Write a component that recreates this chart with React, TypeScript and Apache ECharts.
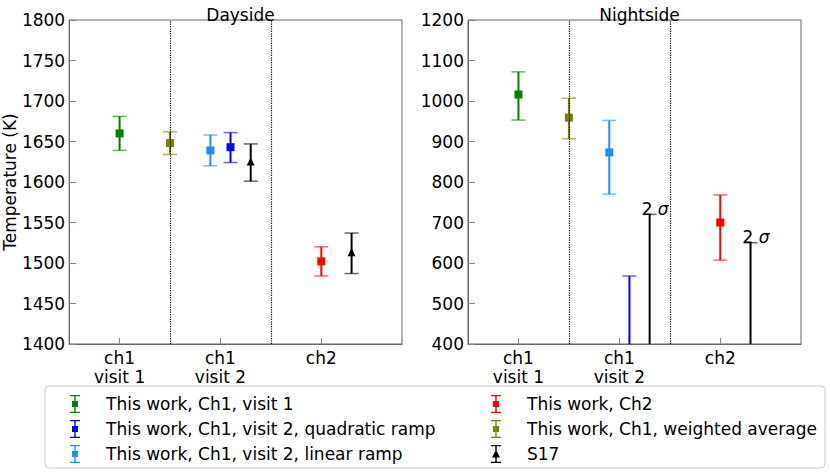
import { useEffect, useRef } from 'react';
import * as echarts from 'echarts';

// x positions: 0 = ch1 visit 1, 1 = ch1 visit 2, 2 = ch2 (offsets place the points side by side)
const xLabels = ['ch1\nvisit 1', 'ch1\nvisit 2', 'ch2'];
const xTicks = [0, 1, 2];
const separators = [0.5, 1.5];
const limitLabel = '2 {s|σ}';

// [x, value, lower, upper]
const dayVisit1 = [[0, 1660, 1639, 1681]];
const dayQuadratic = [[1.1, 1643, 1624, 1661]];
const dayLinear = [[0.9, 1639, 1620, 1658]];
const dayCh2 = [[2, 1502, 1484, 1520]];
const dayWeighted = [[0.5, 1648, 1634, 1662]];
const dayS17 = [[1.3, 1624, 1601, 1647], [2.3, 1512, 1487, 1537]];

const nightVisit1 = [[0, 1016, 953, 1072]];
const nightLinear = [[0.9, 873, 770, 952]];
const nightCh2 = [[2, 700, 607, 768]];
const nightWeighted = [[0.5, 959, 907, 1007]];
// [x, upper limit]
const nightQuadraticLimit = [[1.1, 568]];
const nightS17Limit = [[1.3, 720], [2.3, 650]];

const names = {
  visit1: 'This work, Ch1, visit 1',
  quadratic: 'This work, Ch1, visit 2, quadratic ramp',
  linear: 'This work, Ch1, visit 2, linear ramp',
  ch2: 'This work, Ch2',
  weighted: 'This work, Ch1, weighted average',
  s17: 'S17',
};

const colors = {
  visit1: '#008000',
  quadratic: '#0000ff',
  linear: '#1e90ff',
  ch2: '#ff0000',
  weighted: '#808000',
  s17: '#000000',
};

const barIcon = 'path://M0,0H10V1.2H0Z M4.3,1.2H5.7V16.8H4.3Z M2,6H8V12H2Z M0,16.8H10V18H0Z';
const triIcon = 'path://M0,0H10V1.2H0Z M4.3,1.2H5.7V16.8H4.3Z M5,5L9,12.5H1Z M0,16.8H10V18H0Z';

const FONT = 'DejaVu Sans';
const CAP = 7;

function errorBar(name: string, color: string, data: number[][], grid: number, marker: 'rect' | 'tri') {
  return {
    type: 'custom',
    name,
    xAxisIndex: grid,
    yAxisIndex: grid,
    itemStyle: { color },
    data,
    z: 3,
    renderItem: (_params: any, api: any) => {
      const x = api.value(0);
      const p = api.coord([x, api.value(1)]);
      const lo = api.coord([x, api.value(2)]);
      const hi = api.coord([x, api.value(3)]);
      const c = api.visual('color');
      const mk =
        marker === 'rect'
          ? { type: 'rect', shape: { x: p[0] - 4, y: p[1] - 4, width: 8, height: 8 }, style: { fill: c } }
          : {
              type: 'polygon',
              shape: { points: [[p[0], p[1] - 5], [p[0] + 4, p[1] + 3], [p[0] - 4, p[1] + 3]] },
              style: { fill: c },
            };
      return {
        type: 'group',
        children: [
          { type: 'line', shape: { x1: p[0], y1: hi[1], x2: p[0], y2: lo[1] }, style: { stroke: c, lineWidth: 2 } },
          { type: 'line', shape: { x1: p[0] - CAP, y1: hi[1], x2: p[0] + CAP, y2: hi[1] }, style: { stroke: c, lineWidth: 1.5, opacity: 0.6 } },
          { type: 'line', shape: { x1: p[0] - CAP, y1: lo[1], x2: p[0] + CAP, y2: lo[1] }, style: { stroke: c, lineWidth: 1.5, opacity: 0.6 } },
          mk,
        ],
      };
    },
  };
}

function upperLimit(name: string, color: string, data: number[][], grid: number, label: string | null) {
  return {
    type: 'custom',
    name,
    xAxisIndex: grid,
    yAxisIndex: grid,
    itemStyle: { color },
    data,
    z: 3,
    renderItem: (params: any, api: any) => {
      const top = api.coord([api.value(0), api.value(1)]);
      const bottom = params.coordSys.y + params.coordSys.height;
      const c = api.visual('color');
      const children: any[] = [
        { type: 'line', shape: { x1: top[0], y1: top[1], x2: top[0], y2: bottom }, style: { stroke: c, lineWidth: 2 } },
        { type: 'line', shape: { x1: top[0] - CAP, y1: top[1], x2: top[0] + CAP, y2: top[1] }, style: { stroke: c, lineWidth: 1.5, opacity: 0.6 } },
      ];
      if (label) {
        children.push({
          type: 'text',
          style: {
            text: label,
            x: top[0] - 8,
            y: top[1] + 3,
            verticalAlign: 'bottom',
            align: 'left',
            fill: '#000',
            font: `17px "${FONT}"`,
            rich: { s: { fontStyle: 'italic', fontSize: 17, fontFamily: FONT } },
          },
        });
      }
      return { type: 'group', children };
    },
  };
}

function separatorSeries(grid: number) {
  return {
    type: 'line',
    xAxisIndex: grid,
    yAxisIndex: grid,
    data: [],
    z: 5,
    silent: true,
    markLine: {
      symbol: 'none',
      silent: true,
      label: { show: false },
      lineStyle: { type: 'dotted', color: '#000', width: 1.2 },
      data: separators.map((v) => ({ xAxis: v })),
    },
  };
}

function xAxis(grid: number) {
  return {
    type: 'value',
    gridIndex: grid,
    min: -0.5,
    max: 2.8,
    axisLine: { show: true, onZero: false, lineStyle: { color: '#666' } },
    axisTick: { show: true, inside: true, length: 6, customValues: xTicks, lineStyle: { color: '#888' } },
    axisLabel: {
      customValues: xTicks,
      formatter: (v: number) => xLabels[Math.round(v)] ?? '',
      color: '#000',
      fontSize: 17,
      fontFamily: FONT,
      lineHeight: 19,
      margin: 4,
    },
    splitLine: { show: false },
  };
}

function yAxis(grid: number, min: number, max: number, interval: number, name: string) {
  return {
    type: 'value',
    gridIndex: grid,
    min,
    max,
    interval,
    name,
    nameLocation: 'middle',
    nameGap: 49,
    nameTextStyle: { color: '#000', fontSize: 17, fontFamily: FONT },
    axisLine: { show: true, onZero: false, lineStyle: { color: '#666' } },
    axisTick: { show: true, inside: true, length: 7, lineStyle: { color: '#888' } },
    axisLabel: { color: '#000', fontSize: 17, fontFamily: FONT, margin: 4, formatter: (v: number) => String(v) },
    splitLine: { show: false },
  };
}

const legendText = { color: '#000', fontSize: 17, fontFamily: FONT, padding: [0, 0, 0, 21], lineHeight: 18 };

export default function App() {
  const ref = useRef<HTMLDivElement>(null);

  useEffect(() => {
    if (!ref.current) return;
    const chart = echarts.init(ref.current, undefined, { renderer: 'svg' });

    chart.setOption({
      animation: false,
      backgroundColor: '#fff',
      textStyle: { fontFamily: FONT },
      title: [
        { text: 'Dayside', left: 235.5, top: 1, textAlign: 'center', textStyle: { fontSize: 17, fontWeight: 'normal', color: '#000', fontFamily: FONT } },
        { text: 'Nightside', left: 634.5, top: 1, textAlign: 'center', textStyle: { fontSize: 17, fontWeight: 'normal', color: '#000', fontFamily: FONT } },
      ],
      grid: [
        { left: 69, top: 20, width: 333, height: 324, show: true, borderColor: '#666', borderWidth: 1, backgroundColor: 'transparent' },
        { left: 468, top: 20, width: 333, height: 324, show: true, borderColor: '#666', borderWidth: 1, backgroundColor: 'transparent' },
      ],
      xAxis: [xAxis(0), xAxis(1)],
      yAxis: [yAxis(0, 1400, 1800, 50, 'Temperature (K)'), yAxis(1, 400, 1200, 100, '')],
      graphic: [
        {
          type: 'rect',
          z: -1,
          shape: { x: 45, y: 386, width: 780, height: 82, r: 4 },
          style: { fill: '#fff', stroke: '#ccc', lineWidth: 1 },
        },
      ],
      legend: [
        {
          orient: 'vertical',
          left: 65,
          top: 390,
          itemWidth: 10,
          itemHeight: 18,
          itemGap: 7,
          selectedMode: false,
          textStyle: legendText,
          data: [
            { name: names.visit1, icon: barIcon },
            { name: names.quadratic, icon: barIcon },
            { name: names.linear, icon: barIcon },
          ],
        },
        {
          orient: 'vertical',
          left: 486,
          top: 390,
          itemWidth: 10,
          itemHeight: 18,
          itemGap: 7,
          selectedMode: false,
          textStyle: legendText,
          data: [
            { name: names.ch2, icon: barIcon },
            { name: names.weighted, icon: barIcon },
            { name: names.s17, icon: triIcon },
          ],
        },
      ],
      series: [
        separatorSeries(0),
        separatorSeries(1),
        errorBar(names.visit1, colors.visit1, dayVisit1, 0, 'rect'),
        errorBar(names.quadratic, colors.quadratic, dayQuadratic, 0, 'rect'),
        errorBar(names.linear, colors.linear, dayLinear, 0, 'rect'),
        errorBar(names.ch2, colors.ch2, dayCh2, 0, 'rect'),
        errorBar(names.weighted, colors.weighted, dayWeighted, 0, 'rect'),
        errorBar(names.s17, colors.s17, dayS17, 0, 'tri'),
        errorBar(names.visit1, colors.visit1, nightVisit1, 1, 'rect'),
        upperLimit(names.quadratic, colors.quadratic, nightQuadraticLimit, 1, null),
        errorBar(names.linear, colors.linear, nightLinear, 1, 'rect'),
        errorBar(names.ch2, colors.ch2, nightCh2, 1, 'rect'),
        errorBar(names.weighted, colors.weighted, nightWeighted, 1, 'rect'),
        upperLimit(names.s17, colors.s17, nightS17Limit, 1, limitLabel),
      ],
    });

    return () => chart.dispose();
  }, []);

  return <div ref={ref} style={{ position: 'fixed', left: 0, top: 0, width: 830, height: 472 }} />;
}
